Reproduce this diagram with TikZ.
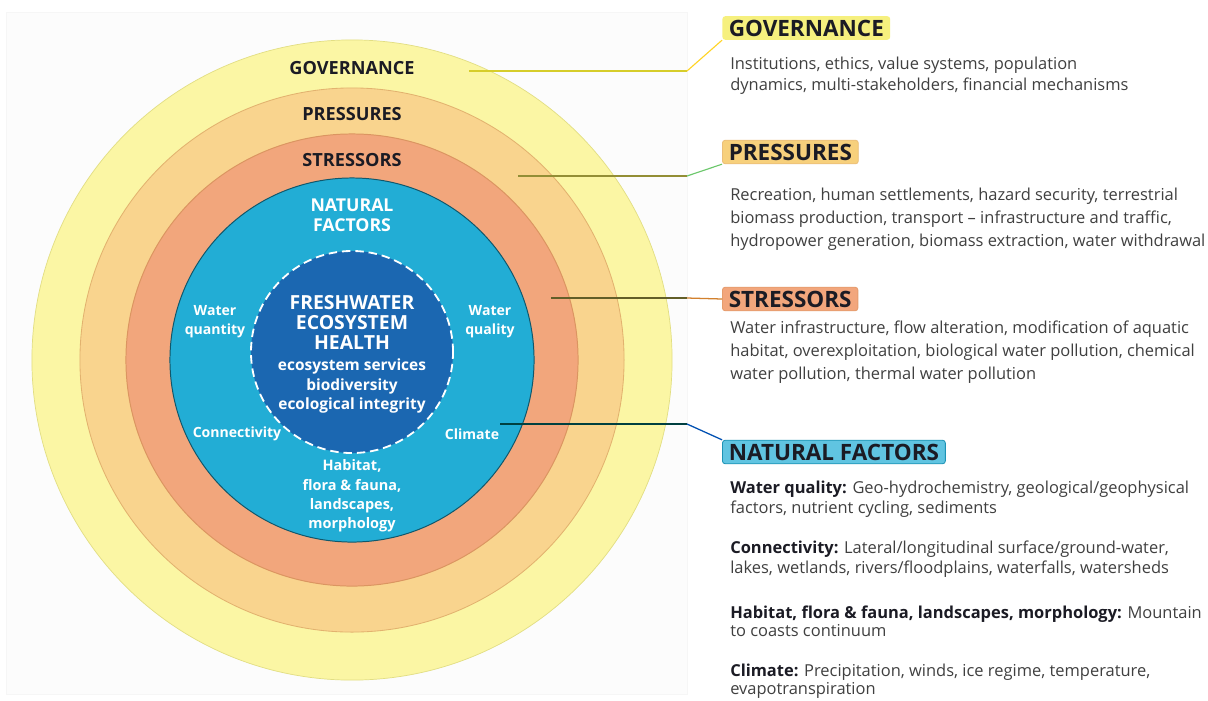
\documentclass[tikz,border=0pt]{standalone}
\usepackage{fontspec}
\setmainfont{Open Sans}
\usetikzlibrary{positioning}

\definecolor{govyellow}{HTML}{FBF6A4}
\definecolor{presorange}{HTML}{F9D48E}
\definecolor{stressorange}{HTML}{F2A67C}
\definecolor{natblue}{HTML}{22ADD5}
\definecolor{coreblue}{HTML}{1B67B1}
\definecolor{headink}{HTML}{1B1B24}
\definecolor{bodyink}{HTML}{404040}
\definecolor{govmark}{HTML}{F6F07E}
\definecolor{presmark}{HTML}{F7D07C}

\begin{document}
\begin{tikzpicture}[x=0.025cm,y=-0.025cm,
    ringlabel/.style={font=\fontsize{12.9}{15}\selectfont\bfseries, text=headink},
    inlabel/.style={font=\fontsize{10}{13.6}\selectfont\bfseries, text=white, align=center},
    headbox/.style={font=\fontsize{16}{18}\selectfont\bfseries, text=headink, rounded corners=2pt,
      inner xsep=4.5pt, inner ysep=2.5pt, anchor=west, line width=0.6pt},
    bodytext/.style={font=\fontsize{11.7}{16.2}\selectfont, text=bodyink, align=left, anchor=west, inner sep=0pt}]
    \useasboundingbox (0,0) rectangle (1208,700);
    \fill[white] (0,0) rectangle (1208,700);
    \draw[gray!7, fill=gray!2] (6,12) rectangle (687,694);

    % rings
    \draw[fill=govyellow, draw=govyellow!80!olive, line width=0.5pt] (352,360) circle (8cm);
    \draw[fill=presorange, draw=presorange!60!brown, line width=0.6pt] (352,360) circle (6.8cm);
    \draw[fill=stressorange, draw=stressorange!55!brown, line width=0.7pt] (352,360) circle (5.65cm);
    \draw[fill=natblue, draw=natblue!50!black, line width=0.7pt] (352,360) circle (4.55cm);
    \draw[fill=coreblue, draw=white, line width=1.3pt, dash pattern=on 6pt off 3.5pt] (352,352) circle (2.525cm);

    \node[ringlabel] (govring) at (352,68) {GOVERNANCE};
    \node[ringlabel] (presring) at (352,114) {PRESSURES};
    \node[ringlabel] (stressring) at (352,160) {STRESSORS};
    \node[inlabel, font=\fontsize{12.6}{14.2}\selectfont\bfseries] (natring) at (352,215) {NATURAL\\FACTORS};

    \node[inlabel, font=\fontsize{13.8}{14.2}\selectfont\bfseries] (core) at (352,322) {FRESHWATER\\ECOSYSTEM\\HEALTH};
    \node[inlabel, font=\fontsize{11}{13.8}\selectfont\bfseries] (coresub) at (352,386) {ecosystem services\\biodiversity\\ecological integrity};

    \node[inlabel] (wquant) at (215,322) {Water\\quantity};
    \node[inlabel] (wqual) at (490,322) {Water\\quality};
    \node[inlabel] (conn) at (237,434) {Connectivity};
    \node[inlabel] (clim) at (472,434) {Climate};
    \node[inlabel, font=\fontsize{10.3}{13.8}\selectfont\bfseries] (habitat) at (352,496) {Habitat,\\flora \& fauna,\\landscapes,\\morphology};

    % legend
    \node[headbox, fill=govmark] (govbox) at (722,28) {GOVERNANCE};
    \node[bodytext, font=\fontsize{11.7}{15}\selectfont] (govtxt) at (730,76) {Institutions, ethics, value systems, population\\dynamics, multi-stakeholders, financial mechanisms};

    \node[headbox, fill=presmark, draw=presorange!75!brown] (presbox) at (722,152) {PRESSURES};
    \node[bodytext] (prestxt) at (730,219) {Recreation, human settlements, hazard security, terrestrial\\biomass production, transport -- infrastructure and traffic,\\hydropower generation, biomass extraction, water withdrawal};

    \node[headbox, fill=stressorange, draw=stressorange!75!brown] (stressbox) at (722,299) {STRESSORS};
    \node[bodytext] (stresstxt) at (730,352) {Water infrastructure, flow alteration, modification of aquatic\\habitat, overexploitation, biological water pollution, chemical\\water pollution, thermal water pollution};

    \node[headbox, fill=natblue!72!white, draw=natblue!85!black] (natbox) at (722,452) {NATURAL FACTORS};
    \node[bodytext, font=\fontsize{11.7}{14.4}\selectfont] (wqualtxt) at (730,499) {\textbf{\color{headink}Water quality:} Geo-hydrochemistry, geological/geophysical\\factors, nutrient cycling, sediments};
    \node[bodytext, font=\fontsize{11.7}{14.4}\selectfont] (conntxt) at (730,559) {\textbf{\color{headink}Connectivity:} Lateral/longitudinal surface/ground-water,\\lakes, wetlands, rivers/floodplains, waterfalls, watersheds};
    \node[bodytext, font=\fontsize{11.7}{13}\selectfont] (habtxt) at (730,621) {\textbf{\color{headink}Habitat, flora \& fauna, landscapes, morphology:} Mountain\\to coasts continuum};
    \node[bodytext, font=\fontsize{11.7}{13}\selectfont] (climtxt) at (730,681) {\textbf{\color{headink}Climate:} Precipitation, winds, ice regime, temperature,\\evapotranspiration};

    % connectors
    \coordinate (govstart) at (469,71);
    \coordinate (govkink) at (687,71);
    \coordinate (presstart) at (518,176);
    \coordinate (preskink) at (687,176);
    \coordinate (stressstart) at (551,298);
    \coordinate (stresskink) at (687,298);
    \coordinate (natstart) at (500,424);
    \coordinate (natkink) at (687,424);

    \draw[olive!45!yellow!80!white, line width=0.8pt] (govstart) -- (govkink);
    \draw[orange!40!yellow!85!white, line width=0.8pt] (govkink) -- (govbox.south west);
    \draw[olive!80!black!80!white, line width=0.8pt] (presstart) -- (preskink);
    \draw[green!45!gray!80!white, line width=0.8pt] (preskink) -- (presbox.south west);
    \draw[olive!60!black, line width=0.8pt] (stressstart) -- (stresskink);
    \draw[brown!70!orange, line width=0.9pt] (stresskink) -- (stressbox.west);
    \draw[teal!50!black, line width=0.8pt] (natstart) -- (natkink);
    \draw[blue!55!cyan!70!black, line width=0.9pt] (natkink) -- (natbox.north west);
\end{tikzpicture}
\end{document}
